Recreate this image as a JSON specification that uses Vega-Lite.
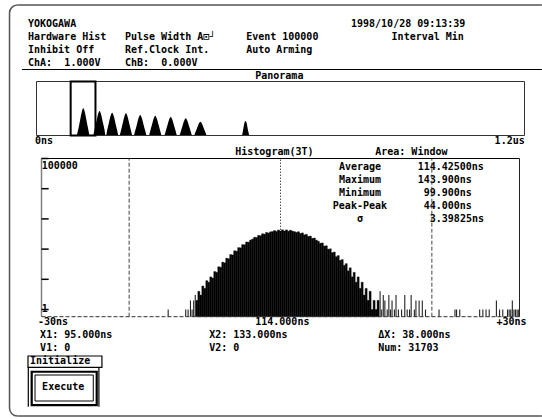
{
"$schema": "https://vega.github.io/schema/vega-lite/v6.json",
"width": 542, "height": 419, "autosize": "none", "padding": 0,
"background": "#ffffff",
"config": {"view": {"stroke": null}},
"resolve": {"scale": {"x": "independent", "y": "independent"}},
"layer": [
{
"layer": [
{"data": {"values": [{}]}, "mark": {"type": "rule", "color": "#555555", "strokeWidth": 1.5},
 "encoding": {"x": {"datum": -1.733, "type": "quantitative", "scale": {"domain": [0, 80], "range": [28, 512.8], "nice": false, "zero": false}, "axis": null}, "x2": {"datum": 84.8},
  "y": {"datum": -1.46, "type": "quantitative", "scale": {"domain": [0, 30], "range": [24, 414], "nice": false, "zero": false}, "axis": null}}},
{"data": {"values": [{}]}, "mark": {"type": "rule", "color": "#555555", "strokeWidth": 1.5},
 "encoding": {"x": {"datum": -1.733, "type": "quantitative", "scale": {"domain": [0, 80], "range": [28, 512.8], "nice": false, "zero": false}, "axis": null}, "x2": {"datum": 84.8},
  "y": {"datum": 30.15, "type": "quantitative", "scale": {"domain": [0, 30], "range": [24, 414], "nice": false, "zero": false}, "axis": null}}},
{"data": {"values": [{}]}, "mark": {"type": "rule", "color": "#555555", "strokeWidth": 1.5},
 "encoding": {"x": {"datum": -3.05, "type": "quantitative", "scale": {"domain": [0, 80], "range": [28, 512.8], "nice": false, "zero": false}, "axis": null},
  "y": {"datum": -0.846, "type": "quantitative", "scale": {"domain": [0, 30], "range": [24, 414], "nice": false, "zero": false}, "axis": null}, "y2": {"datum": 29.54}}},
{"data": {"values": [{}]}, "mark": {"type": "arc", "color": "#555555", "radius": 8.75, "radius2": 7.25, "theta": 4.712, "theta2": 6.2832},
 "encoding": {"x": {"datum": -1.733, "type": "quantitative", "scale": {"domain": [0, 80], "range": [28, 512.8], "nice": false, "zero": false}, "axis": null},
  "y": {"datum": -0.846, "type": "quantitative", "scale": {"domain": [0, 30], "range": [24, 414], "nice": false, "zero": false}, "axis": null}}},
{"data": {"values": [{}]}, "mark": {"type": "arc", "color": "#555555", "radius": 8.75, "radius2": 7.25, "theta": 3.1416, "theta2": 4.712},
 "encoding": {"x": {"datum": -1.733, "type": "quantitative", "scale": {"domain": [0, 80], "range": [28, 512.8], "nice": false, "zero": false}, "axis": null},
  "y": {"datum": 29.54, "type": "quantitative", "scale": {"domain": [0, 30], "range": [24, 414], "nice": false, "zero": false}, "axis": null}}},
{"data": {"values": [{}]}, "mark": {"type": "rule", "color": "#000000", "strokeWidth": 1},
 "encoding": {"x": {"datum": -1, "type": "quantitative", "scale": {"domain": [0, 80], "range": [28, 512.8], "nice": false, "zero": false}, "axis": null}, "x2": {"datum": 84.8},
  "y": {"datum": 3.5, "type": "quantitative", "scale": {"domain": [0, 30], "range": [24, 414], "nice": false, "zero": false}, "axis": null}}},
{"data": {"values": [{}]}, "mark": {"type": "rule", "color": "#000000", "strokeWidth": 1.2},
 "encoding": {"x": {"datum": 0.05, "type": "quantitative", "scale": {"domain": [0, 80], "range": [28, 512.8], "nice": false, "zero": false}, "axis": null},
  "y": {"datum": 26.41, "type": "quantitative", "scale": {"domain": [0, 30], "range": [24, 414], "nice": false, "zero": false}, "axis": null}, "y2": {"datum": 29.44}}},
{"data": {"values": [{}]}, "mark": {"type": "rule", "color": "#000000", "strokeWidth": 1.2},
 "encoding": {"x": {"datum": 11.7, "type": "quantitative", "scale": {"domain": [0, 80], "range": [28, 512.8], "nice": false, "zero": false}, "axis": null},
  "y": {"datum": 26.41, "type": "quantitative", "scale": {"domain": [0, 30], "range": [24, 414], "nice": false, "zero": false}, "axis": null}, "y2": {"datum": 29.44}}},
{"data": {"values": [{}]}, "mark": {"type": "rect", "fillOpacity": 0, "stroke": "#000000", "strokeWidth": 1.2},
 "encoding": {"x": {"datum": 0, "type": "quantitative", "scale": {"domain": [0, 80], "range": [28, 512.8], "nice": false, "zero": false}, "axis": null}, "x2": {"datum": 12.2},
  "y": {"datum": 25.54, "type": "quantitative", "scale": {"domain": [0, 30], "range": [24, 414], "nice": false, "zero": false}, "axis": null}, "y2": {"datum": 26.41}}},
{"data": {"values": [{}]}, "mark": {"type": "rect", "fillOpacity": 0, "stroke": "#000000", "strokeWidth": 2.2},
 "encoding": {"x": {"datum": 0.61, "type": "quantitative", "scale": {"domain": [0, 80], "range": [28, 512.8], "nice": false, "zero": false}, "axis": null}, "x2": {"datum": 11.34},
  "y": {"datum": 26.75, "type": "quantitative", "scale": {"domain": [0, 30], "range": [24, 414], "nice": false, "zero": false}, "axis": null}, "y2": {"datum": 29.31}}},
{"data": {"values": [{}]}, "mark": {"type": "rect", "fillOpacity": 0, "stroke": "#000000", "strokeWidth": 1},
 "encoding": {"x": {"datum": 1.16, "type": "quantitative", "scale": {"domain": [0, 80], "range": [28, 512.8], "nice": false, "zero": false}, "axis": null}, "x2": {"datum": 10.77},
  "y": {"datum": 27.0, "type": "quantitative", "scale": {"domain": [0, 30], "range": [24, 414], "nice": false, "zero": false}, "axis": null}, "y2": {"datum": 29.0}}},
{"data": {"values": [
 {"c": 0, "l": 0, "s": "YOKOGAWA"},
 {"c": 53.3, "l": 0, "s": "1998/10/28 09:13:39"},
 {"c": 0, "l": 1, "s": "Hardware Hist"},
 {"c": 16, "l": 1, "s": "Pulse Width A⊡┘"},
 {"c": 36, "l": 1, "s": "Event 100000"},
 {"c": 60, "l": 1, "s": "Interval Min"},
 {"c": 0, "l": 2, "s": "Inhibit Off"},
 {"c": 16, "l": 2, "s": "Ref.Clock Int."},
 {"c": 36, "l": 2, "s": "Auto Arming"},
 {"c": 0, "l": 3, "s": "ChA:"},
 {"c": 6, "l": 3, "s": "1.000V"},
 {"c": 16, "l": 3, "s": "ChB:"},
 {"c": 22, "l": 3, "s": "0.000V"},
 {"c": 37.5, "l": 4, "s": "Panorama"},
 {"c": 1.15, "l": 9, "s": "0ns"},
 {"c": 77.0, "l": 9, "s": "1.2us"},
 {"c": 34.2, "l": 9.85, "s": "Histogram(3T)"},
 {"c": 57.3, "l": 9.85, "s": "Area: Window"},
 {"c": 2.26, "l": 10.92, "s": "100000"},
 {"c": 51.3, "l": 11, "s": "Average"},
 {"c": 64.3, "l": 11, "s": "114.42500ns"},
 {"c": 51.3, "l": 12, "s": "Maximum"},
 {"c": 64.3, "l": 12, "s": "143.900ns"},
 {"c": 51.3, "l": 13, "s": "Minimum"},
 {"c": 65.3, "l": 13, "s": "99.900ns"},
 {"c": 50.3, "l": 14, "s": "Peak-Peak"},
 {"c": 65.3, "l": 14, "s": "44.000ns"},
 {"c": 54.3, "l": 15, "s": "σ"},
 {"c": 66.3, "l": 15, "s": "3.39825ns"},
 {"c": 2.26, "l": 21.95, "s": "1"},
 {"c": 1.65, "l": 22.9, "s": "-30ns"},
 {"c": 37.5, "l": 22.9, "s": "114.000ns"},
 {"c": 77.3, "l": 22.9, "s": "+30ns"},
 {"c": 2, "l": 23.9, "s": "X1: 95.000ns"},
 {"c": 29.9, "l": 23.9, "s": "X2: 133.000ns"},
 {"c": 57.8, "l": 23.9, "s": "ΔX: 38.000ns"},
 {"c": 2, "l": 24.9, "s": "V1: 0"},
 {"c": 29.9, "l": 24.9, "s": "V2: 0"},
 {"c": 57.8, "l": 24.9, "s": "Num: 31703"},
 {"c": 0.33, "l": 25.9, "s": "Initialize"},
 {"c": 2.33, "l": 27.95, "s": "Execute"}
 ]},
 "mark": {"type": "text", "align": "left", "baseline": "middle", "font": "DejaVu Sans Mono", "fontSize": 10, "fontWeight": "bold", "color": "#000000"},
 "encoding": {"x": {"field": "c", "type": "quantitative", "scale": {"domain": [0, 80], "range": [28, 512.8], "nice": false, "zero": false}, "axis": null},
  "y": {"field": "l", "type": "quantitative", "scale": {"domain": [0, 30], "range": [24, 414], "nice": false, "zero": false}, "axis": null},
  "text": {"field": "s", "type": "nominal"}}}
]
},
{
"layer": [
{"data": {"values": [
 {"p": 99, "n": 0}, {"p": 103, "n": 126}, {"p": 107, "n": 277}, {"p": 111, "n": 428}, {"p": 115, "n": 504}, {"p": 119, "n": 428}, {"p": 123, "n": 277}, {"p": 127, "n": 126}, {"p": 131, "n": 0},
 {"p": 139, "n": 0}, {"p": 143, "n": 114}, {"p": 147, "n": 250}, {"p": 151, "n": 386}, {"p": 155, "n": 454}, {"p": 159, "n": 386}, {"p": 163, "n": 250}, {"p": 167, "n": 114}, {"p": 170, "n": 0},
 {"p": 171, "n": 0}, {"p": 174, "n": 106}, {"p": 178, "n": 232}, {"p": 182, "n": 359}, {"p": 186, "n": 422}, {"p": 190, "n": 359}, {"p": 194, "n": 232}, {"p": 198, "n": 106}, {"p": 202, "n": 0},
 {"p": 204, "n": 0}, {"p": 208, "n": 103}, {"p": 212, "n": 226}, {"p": 216, "n": 349}, {"p": 220, "n": 411}, {"p": 224, "n": 349}, {"p": 228, "n": 226}, {"p": 232, "n": 103}, {"p": 236, "n": 0},
 {"p": 239, "n": 0}, {"p": 243, "n": 95}, {"p": 247, "n": 209}, {"p": 251, "n": 323}, {"p": 255, "n": 380}, {"p": 259, "n": 323}, {"p": 263, "n": 209}, {"p": 267, "n": 95}, {"p": 271, "n": 0},
 {"p": 276, "n": 0}, {"p": 280, "n": 92}, {"p": 284, "n": 202}, {"p": 288, "n": 312}, {"p": 292, "n": 367}, {"p": 296, "n": 312}, {"p": 300, "n": 202}, {"p": 304, "n": 92}, {"p": 308, "n": 0},
 {"p": 314, "n": 0}, {"p": 318, "n": 86}, {"p": 322, "n": 189}, {"p": 326, "n": 292}, {"p": 330, "n": 343}, {"p": 334, "n": 292}, {"p": 338, "n": 189}, {"p": 342, "n": 86}, {"p": 346, "n": 0},
 {"p": 351, "n": 0}, {"p": 355, "n": 80}, {"p": 359, "n": 175}, {"p": 363, "n": 271}, {"p": 367, "n": 319}, {"p": 371, "n": 271}, {"p": 375, "n": 175}, {"p": 379, "n": 80}, {"p": 383, "n": 0},
 {"p": 387, "n": 0}, {"p": 391, "n": 64}, {"p": 395, "n": 141}, {"p": 399, "n": 218}, {"p": 403, "n": 256}, {"p": 407, "n": 218}, {"p": 411, "n": 141}, {"p": 415, "n": 64}, {"p": 419, "n": 0},
 {"p": 505, "n": 0}, {"p": 508, "n": 100}, {"p": 511, "n": 228}, {"p": 514, "n": 269}, {"p": 517, "n": 228}, {"p": 520, "n": 100}, {"p": 523, "n": 0}
 ]},
 "mark": {"type": "area", "color": "#000000", "interpolate": "monotone"},
 "encoding": {"x": {"field": "p", "type": "quantitative", "sort": null, "scale": {"domain": [0, 1200], "range": [36.5, 524.5], "nice": false, "zero": false}, "axis": null},
  "y": {"field": "n", "type": "quantitative", "scale": {"domain": [0, 1000], "range": [135.5, 81.5], "nice": false, "zero": false}, "axis": null},
  "y2": {"datum": 0}}},
{"data": {"values": [{}]}, "mark": {"type": "rect", "fillOpacity": 0, "stroke": "#333333", "strokeWidth": 1},
 "encoding": {"x": {"datum": 0, "type": "quantitative", "scale": {"domain": [0, 1200], "range": [36.5, 524.5], "nice": false, "zero": false}, "axis": null}, "x2": {"datum": 1200},
  "y": {"datum": 0, "type": "quantitative", "scale": {"domain": [0, 1000], "range": [135.5, 81.5], "nice": false, "zero": false}, "axis": null}, "y2": {"datum": 1000}}},
{"data": {"values": [{}]}, "mark": {"type": "rect", "fillOpacity": 0, "stroke": "#000000", "strokeWidth": 2},
 "encoding": {"x": {"datum": 84, "type": "quantitative", "scale": {"domain": [0, 1200], "range": [36.5, 524.5], "nice": false, "zero": false}, "axis": null}, "x2": {"datum": 145},
  "y": {"datum": 0, "type": "quantitative", "scale": {"domain": [0, 1000], "range": [135.5, 81.5], "nice": false, "zero": false}, "axis": null}, "y2": {"datum": 1000}}}
]
},
{
"layer": [
{"data": {"values": [
 {"a": 103.375, "b": 103.625, "c": 2}, {"a": 103.625, "b": 103.875, "c": 4}, {"a": 103.875, "b": 104.125, "c": 3}, {"a": 104.125, "b": 104.375, "c": 6},
 {"a": 104.375, "b": 104.625, "c": 5}, {"a": 104.625, "b": 104.875, "c": 9}, {"a": 104.875, "b": 105.125, "c": 8}, {"a": 105.125, "b": 105.375, "c": 12},
 {"a": 105.375, "b": 105.625, "c": 11}, {"a": 105.625, "b": 105.875, "c": 18}, {"a": 105.875, "b": 106.125, "c": 17}, {"a": 106.125, "b": 106.375, "c": 26},
 {"a": 106.375, "b": 106.625, "c": 25}, {"a": 106.625, "b": 106.875, "c": 37}, {"a": 106.875, "b": 107.125, "c": 35}, {"a": 107.125, "b": 107.375, "c": 50},
 {"a": 107.375, "b": 107.625, "c": 48}, {"a": 107.625, "b": 107.875, "c": 66}, {"a": 107.875, "b": 108.125, "c": 64}, {"a": 108.125, "b": 108.375, "c": 88},
 {"a": 108.375, "b": 108.625, "c": 85}, {"a": 108.625, "b": 108.875, "c": 112}, {"a": 108.875, "b": 109.125, "c": 110}, {"a": 109.125, "b": 109.375, "c": 141},
 {"a": 109.375, "b": 109.625, "c": 139}, {"a": 109.625, "b": 109.875, "c": 172}, {"a": 109.875, "b": 110.125, "c": 170}, {"a": 110.125, "b": 110.375, "c": 200},
 {"a": 110.375, "b": 110.625, "c": 214}, {"a": 110.625, "b": 110.875, "c": 246}, {"a": 110.875, "b": 111.125, "c": 240}, {"a": 111.125, "b": 111.375, "c": 285},
 {"a": 111.375, "b": 111.625, "c": 276}, {"a": 111.625, "b": 111.875, "c": 322}, {"a": 111.875, "b": 112.125, "c": 312}, {"a": 112.125, "b": 112.375, "c": 356},
 {"a": 112.375, "b": 112.625, "c": 340}, {"a": 112.625, "b": 112.875, "c": 372}, {"a": 112.875, "b": 113.125, "c": 380}, {"a": 113.125, "b": 113.375, "c": 410},
 {"a": 113.375, "b": 113.625, "c": 385}, {"a": 113.625, "b": 113.875, "c": 428}, {"a": 113.875, "b": 114.125, "c": 396}, {"a": 114.125, "b": 114.375, "c": 436},
 {"a": 114.375, "b": 114.625, "c": 398}, {"a": 114.625, "b": 114.875, "c": 433}, {"a": 114.875, "b": 115.125, "c": 392}, {"a": 115.125, "b": 115.375, "c": 422},
 {"a": 115.375, "b": 115.625, "c": 395}, {"a": 115.625, "b": 115.875, "c": 378}, {"a": 115.875, "b": 116.125, "c": 356}, {"a": 116.125, "b": 116.375, "c": 376},
 {"a": 116.375, "b": 116.625, "c": 329}, {"a": 116.625, "b": 116.875, "c": 344}, {"a": 116.875, "b": 117.125, "c": 296}, {"a": 117.125, "b": 117.375, "c": 308},
 {"a": 117.375, "b": 117.625, "c": 262}, {"a": 117.625, "b": 117.875, "c": 270}, {"a": 117.875, "b": 118.125, "c": 226}, {"a": 118.125, "b": 118.375, "c": 232},
 {"a": 118.375, "b": 118.625, "c": 198}, {"a": 118.625, "b": 118.875, "c": 182}, {"a": 118.875, "b": 119.125, "c": 156}, {"a": 119.125, "b": 119.375, "c": 160},
 {"a": 119.375, "b": 119.625, "c": 126}, {"a": 119.625, "b": 119.875, "c": 129}, {"a": 119.875, "b": 120.125, "c": 99}, {"a": 120.125, "b": 120.375, "c": 102},
 {"a": 120.375, "b": 120.625, "c": 76}, {"a": 120.625, "b": 120.875, "c": 80}, {"a": 120.875, "b": 121.125, "c": 56}, {"a": 121.125, "b": 121.375, "c": 61},
 {"a": 121.375, "b": 121.625, "c": 42}, {"a": 121.625, "b": 121.875, "c": 45}, {"a": 121.875, "b": 122.125, "c": 29}, {"a": 122.125, "b": 122.375, "c": 33},
 {"a": 122.375, "b": 122.625, "c": 19}, {"a": 122.625, "b": 122.875, "c": 24}, {"a": 122.875, "b": 123.125, "c": 12}, {"a": 123.125, "b": 123.375, "c": 17},
 {"a": 123.375, "b": 123.625, "c": 8}, {"a": 123.625, "b": 123.875, "c": 12}, {"a": 123.875, "b": 124.125, "c": 5}, {"a": 124.125, "b": 124.375, "c": 8},
 {"a": 124.375, "b": 124.625, "c": 3}, {"a": 124.625, "b": 124.875, "c": 5}, {"a": 124.875, "b": 125.125, "c": 2}, {"a": 125.125, "b": 125.375, "c": 4},
 {"a": 125.375, "b": 125.625, "c": 1}, {"a": 125.625, "b": 125.875, "c": 2}, {"a": 125.875, "b": 126.125, "c": 1}, {"a": 126.125, "b": 126.375, "c": 2}
 ]},
 "mark": {"type": "bar", "color": "#000000", "stroke": "#000000", "strokeWidth": 0.4},
 "encoding": {"x": {"field": "a", "type": "quantitative", "scale": {"domain": [84, 144], "range": [36.5, 524.5], "nice": false, "zero": false}, "axis": null},
  "x2": {"field": "b"},
  "y": {"field": "c", "type": "quantitative", "scale": {"type": "log", "domain": [0.578, 100000], "range": [316.7, 158.5], "nice": false}, "axis": null},
  "y2": {"datum": 0.578}}},
{"data": {"values": [
 {"t": 99.9, "c": 1}, {"t": 102.1, "c": 1}, {"t": 102.4, "c": 1}, {"t": 102.7, "c": 2}, {"t": 102.9, "c": 1}, {"t": 103.1, "c": 2}, {"t": 103.3, "c": 3},
 {"t": 126.5, "c": 4}, {"t": 126.7, "c": 1}, {"t": 126.9, "c": 3}, {"t": 127.1, "c": 2}, {"t": 127.4, "c": 1}, {"t": 127.6, "c": 3}, {"t": 127.8, "c": 1}, {"t": 128.0, "c": 2},
 {"t": 128.3, "c": 1}, {"t": 128.5, "c": 3}, {"t": 128.8, "c": 1}, {"t": 129.2, "c": 1}, {"t": 129.6, "c": 3}, {"t": 129.9, "c": 1}, {"t": 130.2, "c": 1}, {"t": 130.4, "c": 3},
 {"t": 130.8, "c": 1}, {"t": 131.0, "c": 2}, {"t": 131.4, "c": 2}, {"t": 131.8, "c": 2}, {"t": 132.2, "c": 1}, {"t": 133.9, "c": 1}, {"t": 135.9, "c": 1}, {"t": 136.1, "c": 1},
 {"t": 136.5, "c": 1}, {"t": 139.0, "c": 1}, {"t": 139.4, "c": 1}, {"t": 139.8, "c": 1}, {"t": 140.2, "c": 1}, {"t": 141.1, "c": 2}, {"t": 141.5, "c": 1}, {"t": 141.9, "c": 1},
 {"t": 142.5, "c": 1}, {"t": 142.7, "c": 1}, {"t": 142.9, "c": 1}, {"t": 143.1, "c": 2}, {"t": 143.3, "c": 1}, {"t": 143.5, "c": 1}, {"t": 143.7, "c": 1}, {"t": 143.9, "c": 1}
 ]},
 "mark": {"type": "bar", "width": 1.1, "color": "#222222"},
 "encoding": {"x": {"field": "t", "type": "quantitative", "scale": {"domain": [84, 144], "range": [36.5, 524.5], "nice": false, "zero": false}, "axis": null},
  "y": {"field": "c", "type": "quantitative", "scale": {"type": "log", "domain": [0.578, 100000], "range": [316.7, 158.5], "nice": false}, "axis": null},
  "y2": {"datum": 0.578}}},
{"data": {"values": [{"t": 95}, {"t": 133}]},
 "mark": {"type": "rule", "color": "#444444", "strokeWidth": 1, "strokeDash": [4, 2]},
 "encoding": {"x": {"field": "t", "type": "quantitative", "scale": {"domain": [84, 144], "range": [36.5, 524.5], "nice": false, "zero": false}, "axis": null},
  "y": {"datum": 0.578, "type": "quantitative", "scale": {"type": "log", "domain": [0.578, 100000], "range": [316.7, 158.5], "nice": false}, "axis": null},
  "y2": {"datum": 100000}}},
{"data": {"values": [{"t": 114}]},
 "mark": {"type": "rule", "color": "#000000", "strokeWidth": 1, "strokeDash": [1, 2]},
 "encoding": {"x": {"field": "t", "type": "quantitative", "scale": {"domain": [84, 144], "range": [36.5, 524.5], "nice": false, "zero": false}, "axis": null},
  "y": {"datum": 0.578, "type": "quantitative", "scale": {"type": "log", "domain": [0.578, 100000], "range": [316.7, 158.5], "nice": false}, "axis": null},
  "y2": {"datum": 100000}}},
{"data": {"values": [{}]}, "mark": {"type": "rule", "color": "#000000", "strokeWidth": 1},
 "encoding": {"x": {"datum": 84, "type": "quantitative", "scale": {"domain": [84, 144], "range": [36.5, 524.5], "nice": false, "zero": false}, "axis": null}, "x2": {"datum": 144},
  "y": {"datum": 100000, "type": "quantitative", "scale": {"type": "log", "domain": [0.578, 100000], "range": [316.7, 158.5], "nice": false}, "axis": null}}},
{"data": {"values": [{}]}, "mark": {"type": "rule", "color": "#222222", "strokeWidth": 1},
 "encoding": {"x": {"datum": 144, "type": "quantitative", "scale": {"domain": [84, 144], "range": [36.5, 524.5], "nice": false, "zero": false}, "axis": null},
  "y": {"datum": 0.578, "type": "quantitative", "scale": {"type": "log", "domain": [0.578, 100000], "range": [316.7, 158.5], "nice": false}, "axis": null}, "y2": {"datum": 100000}}},
{"data": {"values": [{}]}, "mark": {"type": "rule", "color": "#808080", "strokeWidth": 1.5},
 "encoding": {"x": {"datum": 84, "type": "quantitative", "scale": {"domain": [84, 144], "range": [36.5, 524.5], "nice": false, "zero": false}, "axis": null},
  "y": {"datum": 0.578, "type": "quantitative", "scale": {"type": "log", "domain": [0.578, 100000], "range": [316.7, 158.5], "nice": false}, "axis": null}, "y2": {"datum": 100000}}},
{"data": {"values": [{}]}, "mark": {"type": "rule", "color": "#333333", "strokeWidth": 1, "strokeDash": [4, 2]},
 "encoding": {"x": {"datum": 84, "type": "quantitative", "scale": {"domain": [84, 144], "range": [36.5, 524.5], "nice": false, "zero": false}, "axis": null}, "x2": {"datum": 144},
  "y": {"datum": 0.578, "type": "quantitative", "scale": {"type": "log", "domain": [0.578, 100000], "range": [316.7, 158.5], "nice": false}, "axis": null}}},
{"data": {"values": [{"c": 1}, {"c": 10}, {"c": 100}, {"c": 1000}, {"c": 10000}, {"c": 100000}]},
 "mark": {"type": "rule", "color": "#000000", "strokeWidth": 1.5},
 "encoding": {"x": {"datum": 84, "type": "quantitative", "scale": {"domain": [84, 144], "range": [36.5, 524.5], "nice": false, "zero": false}, "axis": null}, "x2": {"datum": 84.9},
  "y": {"field": "c", "type": "quantitative", "scale": {"type": "log", "domain": [0.578, 100000], "range": [316.7, 158.5], "nice": false}, "axis": null}}}
]
}
]
}
